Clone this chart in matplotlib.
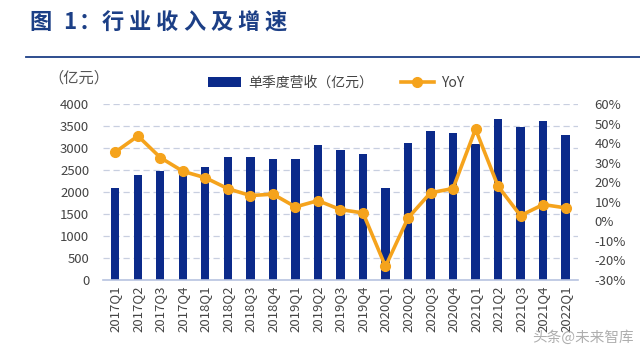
import matplotlib.pyplot as plt
from matplotlib.lines import Line2D

plt.rcParams["font.family"] = ["Noto Sans CJK SC", "DejaVu Sans"]

quarters = [
    "2017Q1", "2017Q2", "2017Q3", "2017Q4",
    "2018Q1", "2018Q2", "2018Q3", "2018Q4",
    "2019Q1", "2019Q2", "2019Q3", "2019Q4",
    "2020Q1", "2020Q2", "2020Q3", "2020Q4",
    "2021Q1", "2021Q2", "2021Q3", "2021Q4",
    "2022Q1",
]
revenue = [
    2100, 2390, 2480, 2530,
    2560, 2790, 2805, 2745,
    2745, 3080, 2965, 2860,
    2095, 3115, 3390, 3335,
    3085, 3655, 3490, 3610,
    3300,
]
yoy = [
    35.5, 43.7, 32.6, 25.6,
    22.3, 16.7, 13.2, 13.9,
    7.4, 10.6, 6.0, 4.3,
    -23.1, 1.7, 14.6, 16.8,
    47.2, 18.0, 2.9, 8.6,
    6.9,
]
title_chars = ["图", "1", "：", "行", "业", "收", "入", "及", "增", "速"]

navy = "#0b2a8a"
orange = "#f5a31c"
title_blue = "#1c3f86"

figure = plt.figure(figsize=(6.4, 3.53), dpi=100)

# title drawn char by char to get the wide letter spacing
title_x = [29, 63, 79, 102, 129, 156, 183, 210, 237, 264]
for char, x in zip(title_chars, title_x):
    figure.text(
        x / 640, 0.937, char,
        color=title_blue, fontsize=16, fontweight="bold",
        va="center", ha="left",
    )
figure.add_artist(
    Line2D([0.04, 1.0], [0.838, 0.838], color=title_blue, lw=1.3,
           transform=figure.transFigure)
)
figure.text(0.075, 0.78, "（亿元）", color="#555555", fontsize=11,
            va="center", ha="left")

axis = figure.add_axes([0.161, 0.207, 0.742, 0.498])
positions = range(len(quarters))

axis.bar(positions, revenue, width=0.36, color=navy, zorder=2)
axis.set_ylim(0, 4000)
axis.set_yticks(range(0, 4001, 500))
axis.set_xlim(-0.55, len(quarters) - 0.45)
axis.set_xticks(list(positions))
axis.set_xticklabels(quarters, rotation=90, fontsize=9.5, color="#444444")
axis.tick_params(axis="y", labelsize=9.5, colors="#444444", length=0, pad=10)
axis.tick_params(axis="x", length=0, pad=4)
axis.yaxis.grid(True, linestyle=(0, (5, 3)), color="#c8cfe0", lw=0.9, zorder=0)
axis.set_axisbelow(True)
for side in ["top", "right", "left"]:
    axis.spines[side].set_visible(False)
axis.spines["bottom"].set_color("#b8c4e0")
axis.spines["bottom"].set_linewidth(1.2)

twin = axis.twinx()
twin.plot(positions, yoy, color=orange, lw=2.6, marker="o", markersize=7,
          zorder=3)
twin.set_ylim(-30, 60)
twin.set_yticks(range(-30, 61, 10))
twin.set_yticklabels([f"{v}%" for v in range(-30, 61, 10)])
twin.tick_params(axis="y", labelsize=9.5, colors="#444444", length=0, pad=12)
for side in ["top", "right", "left", "bottom"]:
    twin.spines[side].set_visible(False)

handles = [axis.patches[0], twin.lines[0]]
figure.legend(
    handles, ["单季度营收（亿元）", "YoY"],
    loc="center left", bbox_to_anchor=(0.305, 0.765),
    ncol=2, frameon=False, fontsize=10, handlelength=2.4,
    handletextpad=0.5, columnspacing=2.0, labelcolor="#444444",
)

figure.text(0.99, 0.045, "头条@未来智库", color="#9a9a9a", fontsize=10.5,
            ha="right", va="center", alpha=0.8)

figure.savefig("out.png", dpi=100)
